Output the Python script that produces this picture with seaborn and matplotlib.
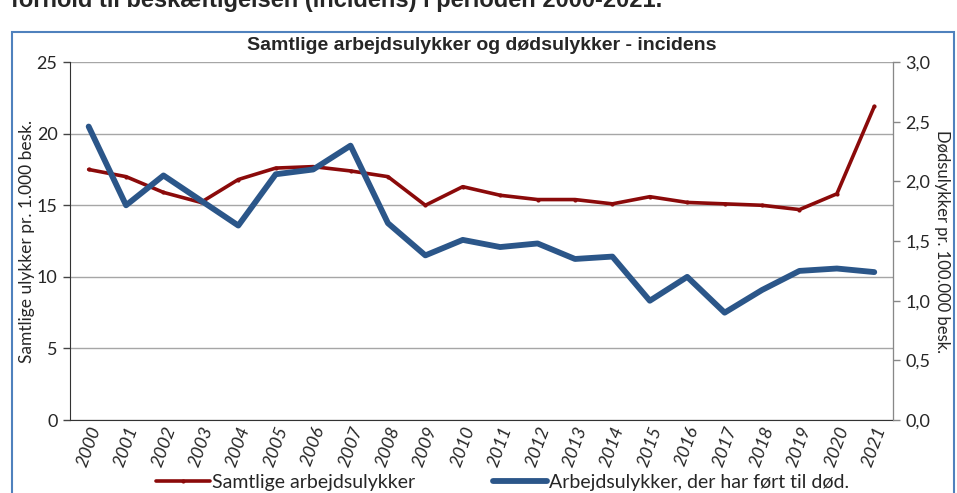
import numpy as np
import pandas as pd
import seaborn as sns
import matplotlib
matplotlib.use('Agg')
from matplotlib import pyplot as plt
from matplotlib.patches import Rectangle
from matplotlib.lines import Line2D
from matplotlib.ticker import FuncFormatter, MultipleLocator

years = [str(y) for y in range(2000, 2022)]
samtlige = [17.5, 17.0, 15.9, 15.2, 16.8, 17.6, 17.7, 17.4, 17.0, 15.0, 16.3,
            15.7, 15.4, 15.4, 15.1, 15.6, 15.2, 15.1, 15.0, 14.7, 15.8, 21.9]
doed = [2.46, 1.80, 2.05, 1.84, 1.63, 2.06, 2.10, 2.30, 1.65, 1.38, 1.51,
        1.45, 1.48, 1.35, 1.37, 1.00, 1.20, 0.90, 1.09, 1.25, 1.27, 1.24]

title = 'Samtlige arbejdsulykker og dødsulykker - incidens'
left_label = 'Samtlige ulykker pr. 1.000 besk.'
right_label = 'Dødsulykker pr. 100.000 besk.'
legend_labels = ['Samtlige arbejdsulykker', 'Arbejdsulykker, der har ført til død.']

RED = '#8b0a0a'
BLUE = '#2b5689'

sns.set_style('white')
plt.rcParams['font.family'] = ['Lato', 'DejaVu Sans']

df = pd.DataFrame({'x': np.arange(len(years)), 'samtlige': samtlige, 'doed': doed})

fig = plt.figure(figsize=(9.57, 4.93), dpi=100)
ax = fig.add_axes([0.0731, 0.148, 0.86, 0.726])
ax2 = ax.twinx()

sns.lineplot(data=df, x='x', y='samtlige', ax=ax, color=RED, lw=2.6,
             marker='o', markersize=3, markeredgewidth=0, zorder=3)
sns.lineplot(data=df, x='x', y='doed', ax=ax2, color=BLUE, lw=4.2,
             solid_capstyle='round', zorder=3)

ax.set_xlim(-0.5, len(years) - 0.5)
ax.set_ylim(0, 25)
ax2.set_ylim(0, 3.0)
ax.yaxis.set_major_locator(MultipleLocator(5))
ax2.yaxis.set_major_locator(MultipleLocator(0.5))
ax2.yaxis.set_major_formatter(FuncFormatter(lambda v, p: f'{v:.1f}'.replace('.', ',')))

ax.set_xticks(np.arange(len(years)))
ax.set_xticklabels(years, rotation=70, fontsize=13, fontstyle='italic', ha='center')
ax.set_xticks(np.arange(-0.5, len(years)), minor=True)
ax.tick_params(axis='x', which='major', length=0, pad=3)
ax.tick_params(axis='x', which='minor', length=5, width=1, color='#333333', direction='out')
ax.tick_params(axis='y', length=5, width=1, color='#444444', direction='out', labelsize=13, pad=4)
ax2.tick_params(axis='y', length=5, width=1, color='#888888', direction='out', labelsize=13, pad=4)

ax.yaxis.grid(True, color='#a6a6a6', lw=1)
ax.set_axisbelow(True)
for a in (ax, ax2):
    a.spines['top'].set_visible(False)
ax.spines['left'].set_color('#333333')
ax.spines['bottom'].set_color('#333333')
ax2.spines['right'].set_color('#888888')
ax2.spines['left'].set_visible(False)
ax2.spines['bottom'].set_visible(False)

ax.set_xlabel('')
ax.set_ylabel(left_label, fontsize=12.5, labelpad=1)
ax2.set_ylabel(right_label, fontsize=12, rotation=-90, labelpad=14)

ax.set_title(title, fontsize=14, fontweight='bold',
             family=['Liberation Sans Narrow', 'Liberation Sans', 'DejaVu Sans'], pad=9)

handles = [Line2D([], [], color=RED, lw=2.6, marker='o', markersize=3, markeredgewidth=0),
           Line2D([], [], color=BLUE, lw=4.2)]
fig.legend(handles, legend_labels, loc='center', bbox_to_anchor=(0.525, 0.022), ncol=2,
           frameon=False, fontsize=14, handlelength=2.8, handletextpad=0.1, columnspacing=4.0)

fig.patches.append(Rectangle((12 / 957, -0.01), 942 / 957, 1 - 32 / 493 + 0.01,
                             transform=fig.transFigure, fill=False, edgecolor='#4f81bd', lw=1.5))
# the heading above the chart box is cut off at the top edge in the source image too
fig.text(0.012, 1.0, 'forhold til beskæftigelsen (incidens) i perioden 2000-2021.',
         fontsize=17, fontweight='bold', va='center', ha='left',
         family=['Liberation Sans', 'DejaVu Sans'])

fig.savefig('out.png', dpi=100)
